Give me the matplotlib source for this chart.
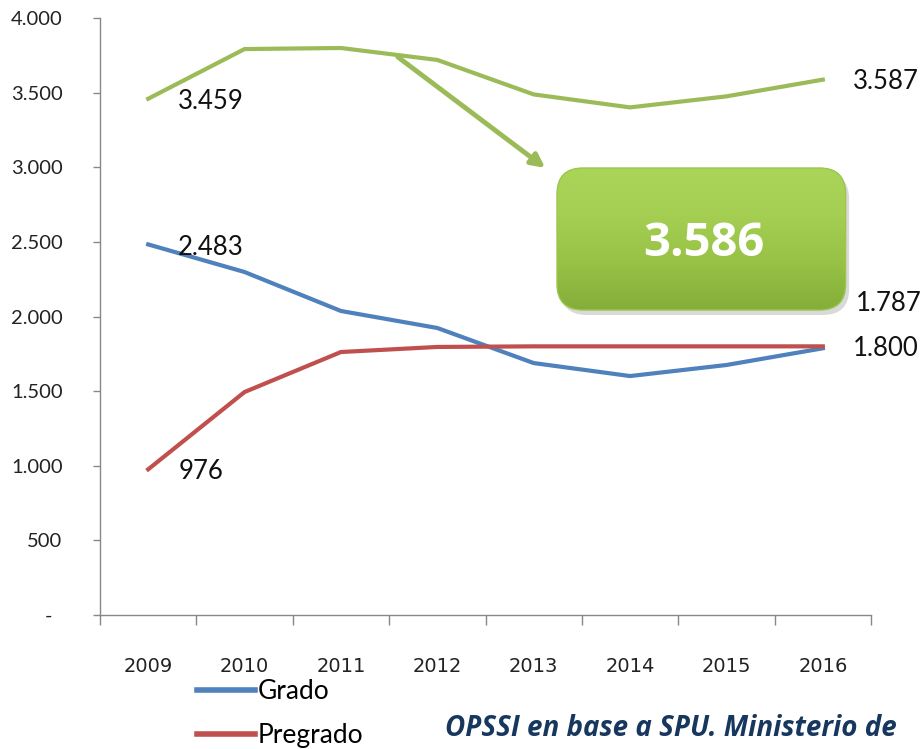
import matplotlib
matplotlib.use("Agg")
import matplotlib.pyplot as plt
import numpy as np
from matplotlib.patches import FancyBboxPatch
from matplotlib.ticker import FuncFormatter
from matplotlib.colors import LinearSegmentedColormap

years = ["2009", "2010", "2011", "2012", "2013", "2014", "2015", "2016"]
grado = [2483, 2298, 2037, 1923, 1688, 1601, 1675, 1787]
pregrado = [976, 1494, 1762, 1796, 1800, 1800, 1800, 1800]
total = [3459, 3792, 3799, 3719, 3488, 3401, 3475, 3587]
box_value = "3.586"
source_text = "OPSSI en base a SPU. Ministerio de"

GREEN = "#9BBB59"
BLUE = "#4F81BD"
RED = "#C0504D"

W, H = 921, 749
fig = plt.figure(figsize=(W / 100, H / 100), dpi=100)
ax = fig.add_axes([100 / W, 1 - 615 / H, 771 / W, 597 / H])

x = np.arange(len(years))
ax.plot(x, total, color=GREEN, lw=3, solid_joinstyle="round", zorder=3)
lg, = ax.plot(x, grado, color=BLUE, lw=3, solid_joinstyle="round", zorder=3, label="Grado")
lp, = ax.plot(x, pregrado, color=RED, lw=3, solid_joinstyle="round", zorder=3, label="Pregrado")

ax.set_xlim(-0.5, len(years) - 0.5)
ax.set_ylim(0, 4000)

def fmt(v, pos):
    if v == 0:
        return "-  "
    return f"{int(v):,}".replace(",", ".")

ax.set_yticks(np.arange(0, 4001, 500))
ax.yaxis.set_major_formatter(FuncFormatter(fmt))
ax.set_xticks(np.arange(-0.5, len(years), 1.0))
ax.set_xticklabels([])
ax.set_xticks(x, minor=True)
ax.set_xticklabels(years, minor=True)
ax.tick_params(axis="x", which="minor", length=0, pad=30, labelsize=14)
ax.tick_params(axis="x", which="major", length=7, color="#888888", width=1)
ax.tick_params(axis="y", length=5, color="#888888", width=1, labelsize=14.5, pad=22)
for lab in ax.get_xticklabels(minor=True):
    lab.set_family(["Liberation Sans Narrow", "DejaVu Sans"])
    lab.set_color("#222222")
for lab in ax.get_yticklabels():
    lab.set_family(["Lato", "DejaVu Sans"])
    lab.set_color("#222222")

for s in ["top", "right"]:
    ax.spines[s].set_visible(False)
for s in ["left", "bottom"]:
    ax.spines[s].set_color("#888888")
    ax.spines[s].set_linewidth(1)

lab_kw = dict(textcoords="offset pixels", fontsize=18.5, family=["Lato", "DejaVu Sans"],
              color="#111111", va="center", ha="left", zorder=5)
def f(v):
    return fmt(v, None)
ax.annotate(f(total[0]), (0, total[0]), xytext=(30, -3), **lab_kw)
ax.annotate(f(grado[0]), (0, grado[0]), xytext=(30, -3), **lab_kw)
ax.annotate(f(pregrado[0]), (0, pregrado[0]), xytext=(30, -2), **lab_kw)
ax.annotate(f(total[-1]), (7, total[-1]), xytext=(30, -2), **lab_kw)
ax.annotate(f(grado[-1]), (7, grado[-1]), xytext=(33, 45), **lab_kw)
ax.annotate(f(pregrado[-1]), (7, pregrado[-1]), xytext=(30, -2), **lab_kw)

# arrow from green line to box
ax.annotate("", xy=(4.12, 2995), xytext=(2.59, 3739),
            arrowprops=dict(arrowstyle="-|>,head_length=0.8,head_width=0.4",
                            color=GREEN, lw=3.5, shrinkA=0, shrinkB=0), zorder=4)

# green rounded box with gradient
bx0, by0, bw, bh = 557, 168, 293, 142
bax = fig.add_axes([bx0 / W, 1 - (by0 + bh) / H, bw / W, bh / H])
bax.set_xlim(0, 1)
bax.set_ylim(0, 1)
bax.axis("off")
bax.patch.set_alpha(0)
rs = 26 / bw
shadow = FancyBboxPatch((0.012, -0.035), 0.985, 1.0,
                        boxstyle=f"round,pad=0,rounding_size={rs}",
                        mutation_aspect=bw / bh, transform=bax.transAxes,
                        facecolor="#000000", alpha=0.15, edgecolor="none",
                        clip_on=False, zorder=0.5)
bax.add_patch(shadow)
box = FancyBboxPatch((0.0, 0.0), 0.985, 1.0,
                     boxstyle=f"round,pad=0,rounding_size={rs}",
                     mutation_aspect=bw / bh, transform=bax.transAxes,
                     facecolor="none", edgecolor="#9CC64C", lw=1, clip_on=False, zorder=2)
cmap = LinearSegmentedColormap.from_list("g", ["#84AE3A", "#97C245", "#A5CF53", "#AAD558"])
grad = np.linspace(0, 1, 256).reshape(-1, 1)
im = bax.imshow(grad, extent=[0, 1, 0, 1], origin="lower", aspect="auto", cmap=cmap, zorder=1)
im.set_clip_path(box)
bax.add_patch(box)
bax.text(0.5, 0.47, box_value, ha="center", va="center", color="white", fontsize=34,
         fontweight="bold", family=["Open Sans", "DejaVu Sans"], transform=bax.transAxes,
         zorder=3)

leg = ax.legend(handles=[lg, lp], loc="upper left", bbox_to_anchor=(197 / W, 1 - 679 / H),
                bbox_transform=fig.transFigure, frameon=False,
                handlelength=2.2, handletextpad=0.1, labelspacing=0.72,
                borderpad=0, borderaxespad=0,
                prop={"family": ["Lato", "DejaVu Sans"], "size": 19})
for line in leg.get_lines():
    line.set_linewidth(4)

fig.text(445 / W, 1 - 728 / H, source_text, fontsize=20, fontweight="bold", style="italic",
         color="#17375E", family=["Open Sans", "DejaVu Sans"], va="center", ha="left")

fig.savefig("out.png", dpi=100)
